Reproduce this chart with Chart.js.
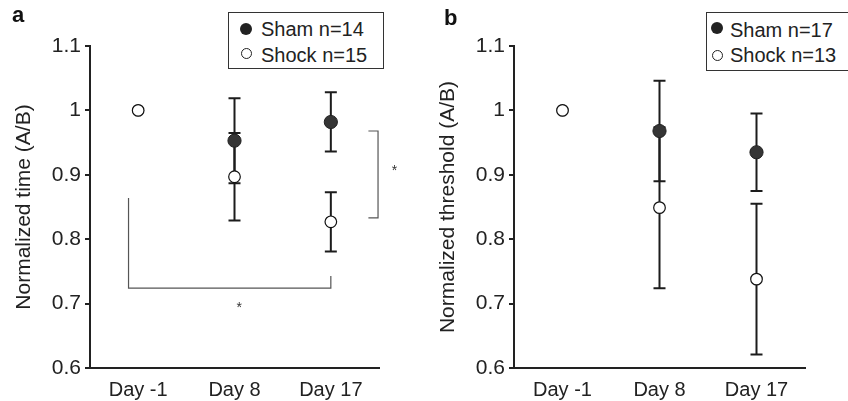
<!DOCTYPE html>
<html><head><meta charset="utf-8">
<script src="https://cdn.jsdelivr.net/npm/chart.js@4/dist/chart.umd.min.js"></script>
<style>
html,body{margin:0;padding:0;background:#fff;width:848px;height:401px;overflow:hidden;position:relative;font-family:"Liberation Sans",Arial,Helvetica,sans-serif;color:#222}
.cv{position:absolute;top:0}
.leg{position:absolute;border:1px solid #333;box-sizing:border-box;background:#fff}
.lt{position:absolute;font-size:20px;line-height:20px;white-space:nowrap;color:#222}
.mk{position:absolute;border-radius:50%;box-sizing:border-box}
.pl{position:absolute;font-weight:bold;font-size:22px;line-height:22px;color:#111}
</style></head><body>
<canvas id="ca" class="cv" width="424" height="401" style="left:0"></canvas>
<canvas id="cb" class="cv" width="424" height="401" style="left:424px"></canvas>
<div id="overlay"></div>
<script>
// ---------- data ----------
const categories = ['Day -1', 'Day 8', 'Day 17'];
const yTickValues = [0.6, 0.7, 0.8, 0.9, 1.0, 1.1];
const yTickLabels = ['0.6', '0.7', '0.8', '0.9', '1', '1.1'];

const aShamMean  = [1.0, 0.953, 0.982];
const aShamErr   = [0, 0.066, 0.046];
const aShockMean = [1.0, 0.897, 0.827];
const aShockErr  = [0, 0.068, 0.046];

const bShamMean  = [1.0, 0.968, 0.935];
const bShamErr   = [0, 0.078, 0.060];
const bShockMean = [1.0, 0.849, 0.738];
const bShockErr  = [0, 0.125, 0.117];

const aLegend = ['Sham n=14', 'Shock n=15'];
const bLegend = ['Sham n=17', 'Shock n=13'];
const aTitle = 'Normalized time (A/B)';
const bTitle = 'Normalized threshold (A/B)';
const panelLetters = ['a', 'b'];

// significance brackets (data units: category index, value)
const aSigLines = [
  [[2.39, 0.968], [2.49, 0.968], [2.49, 0.833], [2.39, 0.833]],
  [[-0.1, 0.864], [-0.1, 0.724], [2.0, 0.724], [2.0, 0.743]]
];
const aSigStars = [[2.66, 0.911], [1.05, 0.697]];

// ---------- rendering ----------
const FONT = '"Liberation Sans", Arial, Helvetica, sans-serif';
const INK = '#222';

const errorBars = {
  id: 'errorBars',
  beforeDatasetsDraw(chart) {
    const ctx = chart.ctx, xs = chart.scales.x, ys = chart.scales.y;
    ctx.save();
    ctx.strokeStyle = '#1c1c1c';
    ctx.lineWidth = 2;
    chart.data.datasets.forEach(ds => {
      ds.data.forEach((v, i) => {
        const e = ds.err[i];
        if (!e) return;
        const px = xs.getPixelForValue(i);
        const t = ys.getPixelForValue(v + e), b = ys.getPixelForValue(v - e);
        ctx.beginPath();
        ctx.moveTo(px, t); ctx.lineTo(px, b);
        ctx.moveTo(px - 6, t); ctx.lineTo(px + 6, t);
        ctx.moveTo(px - 6, b); ctx.lineTo(px + 6, b);
        ctx.stroke();
      });
    });
    ctx.restore();
  }
};

const sigPlugin = {
  id: 'sig',
  afterDraw(chart, args, opts) {
    if (!opts || !opts.lines) return;
    const ctx = chart.ctx, xs = chart.scales.x, ys = chart.scales.y;
    ctx.save();
    ctx.strokeStyle = '#555';
    ctx.lineWidth = 1.2;
    opts.lines.forEach(path => {
      ctx.beginPath();
      path.forEach((p, k) => {
        const X = xs.getPixelForValue(p[0]), Y = ys.getPixelForValue(p[1]);
        if (k === 0) ctx.moveTo(X, Y); else ctx.lineTo(X, Y);
      });
      ctx.stroke();
    });
    ctx.fillStyle = '#333';
    ctx.font = '14px ' + FONT;
    ctx.textAlign = 'center';
    ctx.textBaseline = 'middle';
    opts.stars.forEach(p => {
      ctx.fillText('*', xs.getPixelForValue(p[0]), ys.getPixelForValue(p[1]) + 3);
    });
    ctx.restore();
  }
};

function makePanel(id, shamMean, shamErr, shockMean, shockErr, legend, title, rightPad, sig) {
  return new Chart(document.getElementById(id), {
    type: 'line',
    data: {
      labels: categories,
      datasets: [
        { label: legend[1], data: shockMean, err: shockErr, order: 1, showLine: false,
          pointRadius: 5.8, pointHoverRadius: 5.8, pointBackgroundColor: '#fff',
          pointBorderColor: '#111', pointBorderWidth: 1.2 },
        { label: legend[0], data: shamMean, err: shamErr, order: 2, showLine: false,
          // sham marker fully hidden where it coincides with the shock marker
          pointRadius: c => (shamMean[c.dataIndex] === shockMean[c.dataIndex] ? 5.5 : 6.6),
          pointHoverRadius: 6.6, pointBackgroundColor: '#353535',
          pointBorderColor: '#222', pointBorderWidth: 1 }
      ]
    },
    options: {
      responsive: false, animation: false, devicePixelRatio: 1, events: [],
      layout: { padding: { top: 46, right: rightPad, bottom: 0, left: 0 } },
      plugins: { legend: { display: false }, tooltip: { enabled: false }, sig: sig || {} },
      scales: {
        x: {
          type: 'category', offset: true,
          grid: { display: false },
          border: { display: true, color: INK, width: 2 },
          ticks: { color: INK, font: { size: 20, family: FONT }, padding: 2, maxRotation: 0, autoSkip: false },
          afterFit: s => { s.height = 33; }
        },
        y: {
          min: 0.6, max: 1.1,
          afterBuildTicks: s => { s.ticks = yTickValues.map(v => ({ value: v })); },
          ticks: { color: INK, font: { size: 21, family: FONT }, padding: 4,
                   callback: (v, i) => yTickLabels[i] },
          grid: { drawOnChartArea: false, drawTicks: true, tickLength: 5, color: INK, lineWidth: 2 },
          border: { display: true, color: INK, width: 2 },
          title: { display: true, text: title, color: INK, font: { size: 21, family: FONT },
                   padding: { top: 12, bottom: 0 } },
          afterFit: s => { s.width = 90; }
        }
      }
    },
    plugins: [errorBars, sigPlugin]
  });
}

makePanel('ca', aShamMean, aShamErr, aShockMean, aShockErr, aLegend, aTitle, 45,
          { lines: aSigLines, stars: aSigStars });
makePanel('cb', bShamMean, bShamErr, bShockMean, bShockErr, bLegend, bTitle, 43, null);

// ---------- HTML legends & panel letters ----------
const ov = document.getElementById('overlay');
function el(cls, css, text) {
  const d = document.createElement('div');
  d.className = cls;
  Object.assign(d.style, css);
  if (text !== undefined) d.textContent = text;
  ov.appendChild(d);
  return d;
}
function legendBox(names, box, textLeft, textTops, mk) {
  el('leg', { left: box[0] + 'px', top: box[1] + 'px', width: box[2] + 'px', height: box[3] + 'px' });
  el('mk', { left: (mk[0] - 6) + 'px', top: (mk[1] - 6) + 'px', width: '12px', height: '12px', background: '#222' });
  el('mk', { left: (mk[0] - 5.5) + 'px', top: (mk[2] - 5.5) + 'px', width: '11px', height: '11px', background: '#fff', border: '1px solid #222' });
  el('lt', { left: textLeft + 'px', top: textTops[0] + 'px' }, names[0]);
  el('lt', { left: textLeft + 'px', top: textTops[1] + 'px' }, names[1]);
}
legendBox(aLegend, [228, 12, 156, 57], 261, [18.5, 44.5], [246, 29.3, 53.3]);
legendBox(bLegend, [706, 12, 160, 59], 730, [19.5, 45.3], [717, 28.3, 55]);
el('pl', { left: '12px', top: '4px' }, panelLetters[0]);
el('pl', { left: '444px', top: '7px' }, panelLetters[1]);
</script>
</body></html>
